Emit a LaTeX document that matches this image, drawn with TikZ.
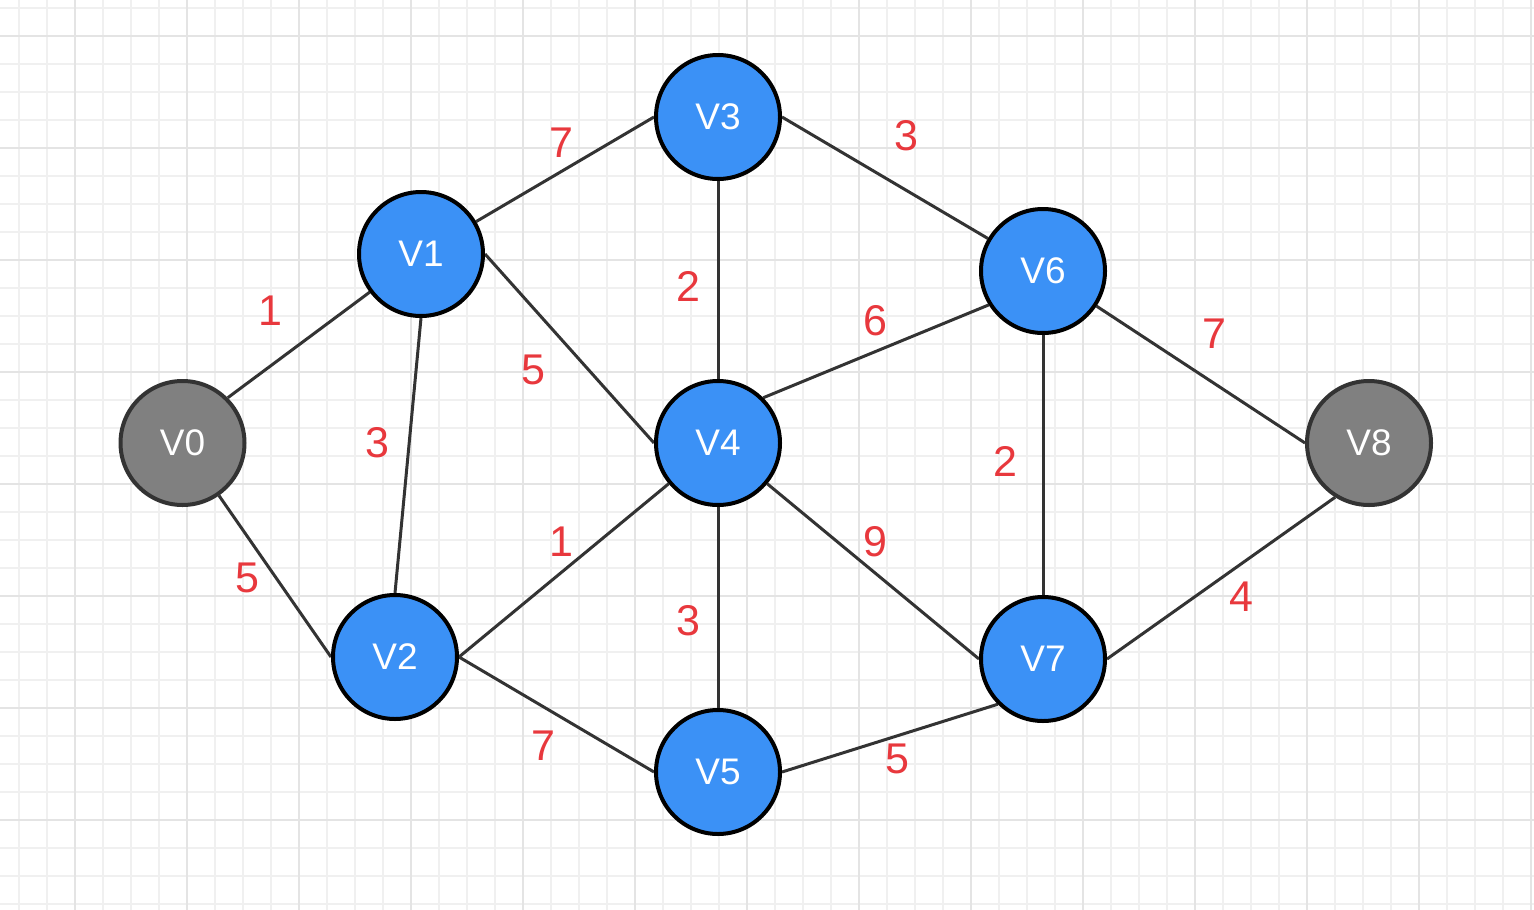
\documentclass[tikz,border=0pt]{standalone}
\usepackage{fontspec}
\setmainfont{Liberation Sans}
\definecolor{nodeblue}{RGB}{59,145,246}
\definecolor{nodegray}{RGB}{128,128,128}
\definecolor{edgecol}{RGB}{51,51,51}
\definecolor{labred}{RGB}{232,56,61}
\definecolor{gridminor}{RGB}{240,240,240}
\definecolor{gridmajor}{RGB}{228,228,228}
\pgfdeclarelayer{bg}
\pgfdeclarelayer{edges}
\pgfsetlayers{bg,edges,main}
\tikzset{
  vert/.style={circle, draw=black, line width=4pt, minimum size=124pt, inner sep=0pt,
    text=white, font=\fontsize{37}{40}\selectfont},
  bluev/.style={vert, fill=nodeblue},
  grayv/.style={vert, fill=nodegray, draw=black!80},
  edge/.style={draw=edgecol, line width=3pt},
  wlab/.style={text=labred, font=\fontsize{43}{46}\selectfont, inner sep=0pt}
}
\begin{document}
\begin{tikzpicture}[x=1pt,y=-1pt]
\useasboundingbox (0,0) rectangle (1534,910);
\begin{pgfonlayer}{bg}
\fill[white] (0,0) rectangle (1534,910);
\foreach \gx in {0,...,55} {
  \draw[gridminor, line width=1.6pt] ({19+28*\gx},0) -- ({19+28*\gx},910);
}
\foreach \gy in {0,...,32} {
  \draw[gridminor, line width=1.6pt] (0,{8+28*\gy}) -- (1534,{8+28*\gy});
}
\foreach \gx in {0,...,13} {
  \draw[gridmajor, line width=1.8pt] ({75+112*\gx},0) -- ({75+112*\gx},910);
}
\foreach \gy in {0,...,7} {
  \draw[gridmajor, line width=1.8pt] (0,{36+112*\gy}) -- (1534,{36+112*\gy});
}
\end{pgfonlayer}
% vertices
\node[grayv] (v0) at (182.5,443) {V0};
\node[bluev] (v1) at (421,254) {V1};
\node[bluev] (v2) at (395,657) {V2};
\node[bluev] (v3) at (718,117) {V3};
\node[bluev] (v4) at (718,443) {V4};
\node[bluev] (v5) at (718,772) {V5};
\node[bluev] (v6) at (1043,271) {V6};
\node[bluev] (v7) at (1043,659) {V7};
\node[grayv] (v8) at (1369,443) {V8};
% edges
\begin{pgfonlayer}{edges}
\draw[edge] (v0.45) -- (v1);
\draw[edge] (v2.west) -- (v0);
\draw[edge] (v1.south) -- (v2.north);
\draw[edge] (v3.west) -- (v1);
\draw[edge] (v1.east) -- (v4.west);
\draw[edge] (v3.south) -- (v4.north);
\draw[edge] (v3.east) -- (v6);
\draw[edge] (v4.45) -- (v6.212);
\draw[edge] (v6.south) -- (v7.north);
\draw[edge] (v8.west) -- (v6);
\draw[edge] (v7.east) -- (v8.238);
\draw[edge] (v7.west) -- (v4);
\draw[edge] (v4.south) -- (v5.north);
\draw[edge] (v2.east) -- (v4);
\draw[edge] (v2.east) -- (v5.west);
\draw[edge] (v5.east) -- (v7.225);
\end{pgfonlayer}
% weights
\node[wlab] (w13) at (561,143) {7};
\node[wlab] (w36) at (906,136) {3};
\node[wlab] (w01) at (270,311) {1};
\node[wlab] (w34) at (688,286) {2};
\node[wlab] (w46) at (875,321) {6};
\node[wlab] (w68) at (1214,334) {7};
\node[wlab] (w14) at (533,370) {5};
\node[wlab] (w12) at (377,443) {3};
\node[wlab] (w67) at (1005,461) {2};
\node[wlab] (w24) at (561,542) {1};
\node[wlab] (w47) at (875,542) {9};
\node[wlab] (w02) at (247,578) {5};
\node[wlab] (w78) at (1241,597) {4};
\node[wlab] (w45) at (688,621) {3};
\node[wlab] (w25) at (543,746) {7};
\node[wlab] (w57) at (897,759) {5};
\end{tikzpicture}
\end{document}
